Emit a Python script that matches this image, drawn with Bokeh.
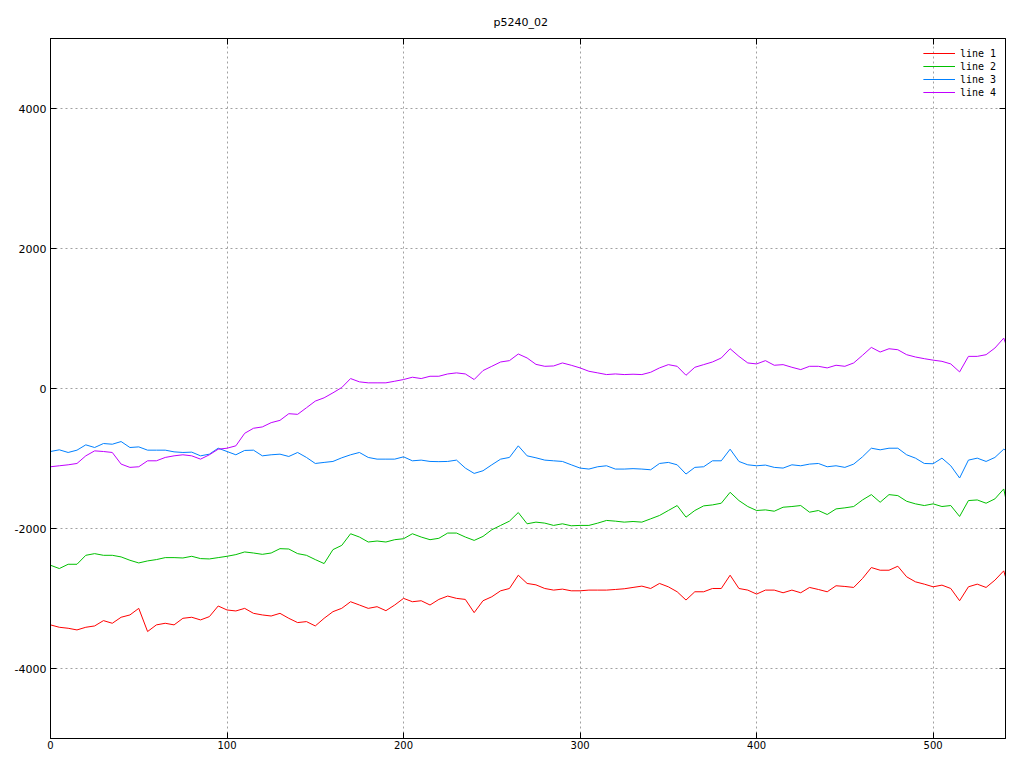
from bokeh.plotting import figure
from bokeh.models import Range1d, LinearAxis, FixedTicker, Legend, LegendItem
from bokeh.embed import file_html
from bokeh.resources import INLINE

# ---------------- data ----------------
title_text = "p5240_02"
series_names = ["line 1", "line 2", "line 3", "line 4"]
series_colors = ["#ff0000", "#00c000", "#0080ff", "#c000ff"]

x_values = list(range(0, 541, 5)) + [541]

line1 = [-3377, -3411, -3425, -3449, -3411, -3392, -3316, -3354, -3268, -3235,
         -3141, -3472, -3377, -3354, -3377, -3283, -3268, -3306, -3259, -3107,
         -3164, -3178, -3141, -3212, -3235, -3250, -3212, -3283, -3344, -3330,
         -3392, -3283, -3188, -3140, -3046, -3093, -3141, -3117, -3174, -3093,
         -2998, -3046, -3032, -3093, -3013, -2965, -2998, -3013, -3202, -3032,
         -2975, -2890, -2857, -2667, -2785, -2805, -2857, -2880, -2866, -2890,
         -2890, -2880, -2880, -2880, -2871, -2861, -2842, -2823, -2857, -2785,
         -2833, -2904, -3022, -2904, -2904, -2857, -2857, -2667, -2857, -2880,
         -2937, -2880, -2880, -2918, -2880, -2918, -2842, -2871, -2904, -2818,
         -2828, -2842, -2714, -2558, -2596, -2596, -2539, -2690, -2762, -2795,
         -2833, -2809, -2857, -3032, -2833, -2795, -2842, -2738, -2605, -2691]

line2 = [-2525, -2572, -2511, -2511, -2383, -2359, -2383, -2383, -2406, -2454,
         -2492, -2463, -2444, -2416, -2416, -2421, -2397, -2430, -2435, -2416,
         -2397, -2373, -2335, -2350, -2369, -2350, -2288, -2293, -2359, -2383,
         -2444, -2501, -2302, -2241, -2075, -2122, -2193, -2179, -2193, -2160,
         -2146, -2075, -2122, -2160, -2140, -2065, -2065, -2122, -2170, -2113,
         -2018, -1956, -1895, -1772, -1933, -1909, -1923, -1956, -1933, -1961,
         -1956, -1956, -1923, -1885, -1895, -1909, -1900, -1909, -1862, -1814,
         -1743, -1672, -1838, -1743, -1677, -1663, -1639, -1483, -1601, -1686,
         -1743, -1734, -1753, -1696, -1686, -1672, -1767, -1743, -1800, -1720,
         -1705, -1686, -1592, -1516, -1625, -1516, -1530, -1611, -1648, -1672,
         -1648, -1686, -1672, -1828, -1601, -1592, -1639, -1577, -1435, -1554]

line3 = [-900, -876, -914, -881, -805, -843, -786, -796, -758, -843,
         -834, -881, -881, -881, -905, -914, -909, -962, -938, -853,
         -900, -947, -885, -881, -962, -947, -938, -971, -914, -985,
         -1071, -1056, -1042, -990, -947, -914, -985, -1009, -1009, -1009,
         -976, -1033, -1023, -1042, -1045, -1042, -1023, -1137, -1213, -1175,
         -1090, -1009, -985, -819, -962, -990, -1023, -1033, -1042, -1090,
         -1137, -1151, -1118, -1104, -1151, -1151, -1145, -1151, -1161, -1071,
         -1056, -1090, -1222, -1127, -1118, -1033, -1033, -867, -1042, -1090,
         -1104, -1094, -1127, -1137, -1090, -1104, -1080, -1071, -1118, -1104,
         -1127, -1080, -976, -853, -876, -853, -853, -947, -995, -1071,
         -1075, -995, -1104, -1279, -1023, -995, -1042, -985, -867, -881]

line4 = [-1118, -1104, -1090, -1071, -962, -891, -900, -914, -1080, -1127,
         -1118, -1033, -1033, -985, -962, -947, -962, -1009, -947, -867,
         -853, -819, -640, -568, -549, -488, -455, -360, -369, -275,
         -180, -133, -62, 14, 142, 95, 81, 81, 81, 104,
         128, 161, 142, 175, 175, 208, 223, 208, 128, 256,
         317, 379, 398, 493, 436, 345, 317, 322, 365, 332,
         294, 246, 223, 199, 208, 199, 204, 199, 232, 294,
         341, 317, 189, 303, 341, 379, 436, 568, 459, 365,
         351, 398, 332, 341, 303, 270, 317, 317, 294, 332,
         317, 365, 474, 587, 521, 568, 554, 483, 450, 426,
         405, 388, 351, 237, 459, 459, 483, 578, 720, 649]

x_ticks = [0, 100, 200, 300, 400, 500]
y_ticks = [-4000, -2000, 0, 2000, 4000]
y_tick_labels = ["-4000", "-2000", "0", "2000", "4000"]
x_min, x_max = 0, 541
y_min, y_max = -5000, 5000

# ---------------- figure ----------------
FONT = "DejaVu Sans"

p = figure(width=1008, height=752, output_backend="svg", toolbar_location=None,
           x_range=Range1d(x_min, x_max), y_range=Range1d(y_min, y_max),
           min_border_left=50, min_border_right=3, min_border_top=38,
           min_border_bottom=14)
p.background_fill_color = "white"
p.border_fill_color = "white"
p.outline_line_color = "black"
p.outline_line_width = 1

p.title.text = title_text
p.title.align = "left"
p.title.offset = 443
p.title.standoff = 19
p.title.text_font = FONT
p.title.text_font_size = "11px"
p.title.text_font_style = "normal"
p.title.text_color = "black"

for ax in (p.xaxis[0], p.yaxis[0]):
    ax.major_tick_in = 6
    ax.major_tick_out = 0
    ax.minor_tick_line_color = None
    ax.axis_line_color = "black"
    ax.major_tick_line_color = "black"
    ax.major_label_text_font = FONT
    ax.major_label_text_color = "black"

p.xaxis[0].ticker = FixedTicker(ticks=x_ticks)
p.xaxis[0].major_label_standoff = 2
p.xaxis[0].major_label_text_font_size = "10px"
p.yaxis[0].ticker = FixedTicker(ticks=y_ticks)
p.yaxis[0].major_label_standoff = 4
p.yaxis[0].major_label_text_font_size = "11px"
p.yaxis[0].major_label_overrides = {t: l for t, l in zip(y_ticks, y_tick_labels)}

# mirrored tick marks (no labels) on right and top
right_ax = LinearAxis(ticker=FixedTicker(ticks=y_ticks), major_tick_in=6, major_tick_out=0,
                      minor_tick_line_color=None, major_label_standoff=0,
                      major_label_text_font_size="0px",
                      major_label_overrides={t: "" for t in y_ticks})
top_ax = LinearAxis(ticker=FixedTicker(ticks=x_ticks), major_tick_in=6, major_tick_out=0,
                    minor_tick_line_color=None, major_label_standoff=0,
                    major_label_text_font_size="0px",
                    major_label_overrides={t: "" for t in x_ticks})
p.add_layout(right_ax, "right")
p.add_layout(top_ax, "above")

p.xgrid.ticker = FixedTicker(ticks=x_ticks)
p.ygrid.ticker = FixedTicker(ticks=y_ticks)
for g in (p.xgrid[0], p.ygrid[0]):
    g.grid_line_color = "#a0a0a0"
    g.grid_line_dash = "2 3"
    g.grid_line_width = 1

renderers = []
for ys, c in zip([line1, line2, line3, line4], series_colors):
    r = p.line(x_values, ys, line_color=c, line_width=1)
    renderers.append(r)

legend = Legend(items=[LegendItem(label=n, renderers=[r]) for n, r in zip(series_names, renderers)],
                location="top_right", orientation="vertical",
                glyph_width=32, glyph_height=12, label_height=12,
                label_standoff=5, spacing=1, padding=3, margin=6,
                background_fill_alpha=0, border_line_alpha=0,
                label_text_font="DejaVu Sans Mono", label_text_font_size="10px",
                label_text_color="black")
p.add_layout(legend)

open("out.html", "w").write(file_html(p, INLINE))
